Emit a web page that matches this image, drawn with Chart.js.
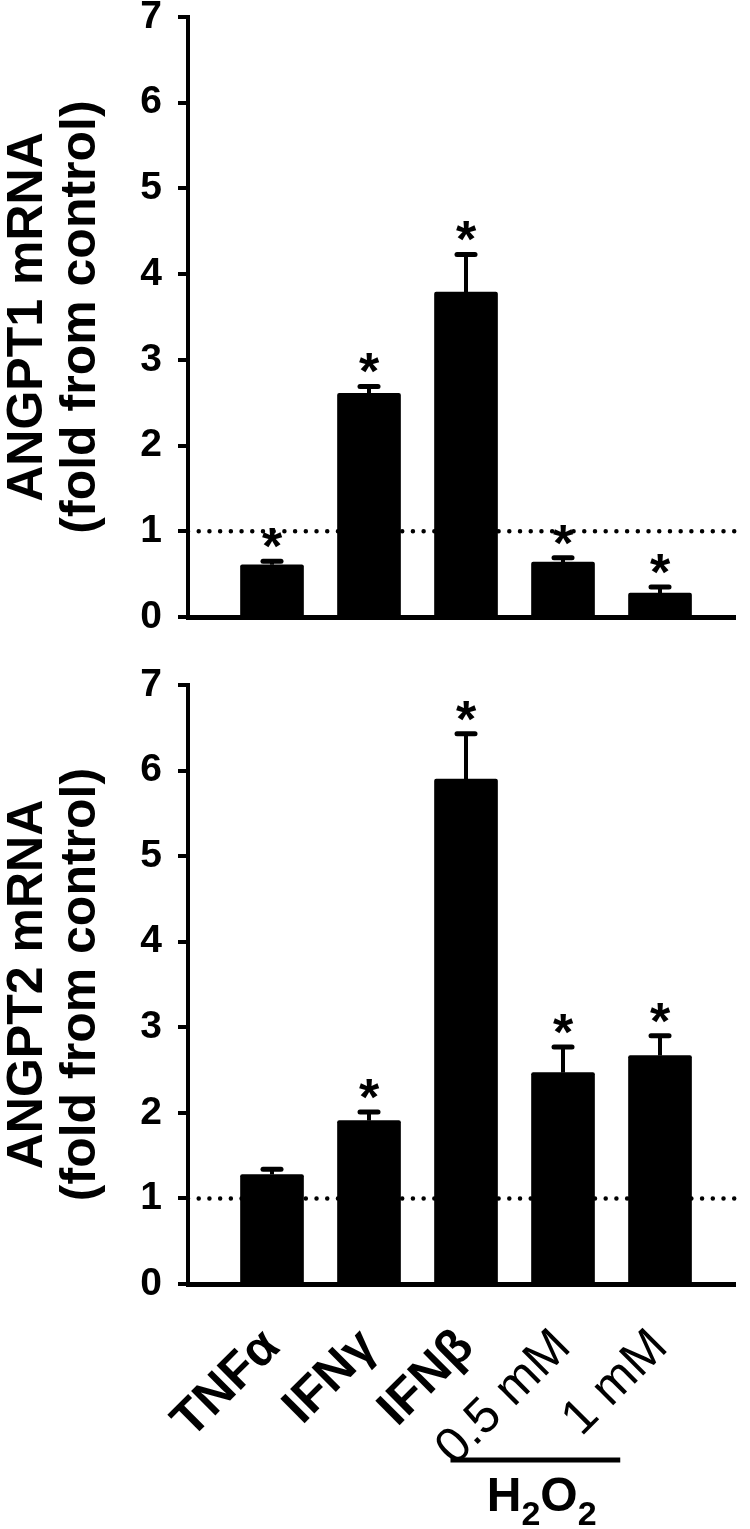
<!DOCTYPE html>
<html>
<head>
<meta charset="utf-8">
<script src="https://cdn.jsdelivr.net/npm/chart.js@4.4.0/dist/chart.umd.min.js"></script>
<style>
body { margin: 0; background: #fff; }
#wrap { position: relative; width: 750px; height: 1529px; overflow: hidden; }
canvas { position: absolute; left: 0; }
</style>
</head>
<body>
<div id="wrap">
<canvas id="angpt1" width="750" height="650" style="top:0px"></canvas>
<canvas id="angpt2" width="750" height="869" style="top:660px"></canvas>
</div>
<script>
// treatments (last two are H2O2 doses)
var labels = ["TNFα", "IFNγ", "IFNβ", "0.5 mM", "1 mM"];
var angpt1_mean = [0.61, 2.61, 3.79, 0.64, 0.28];
var angpt1_sem = [0.04, 0.08, 0.44, 0.05, 0.07];
var angpt1_sig = [true, true, true, true, true];
var angpt2_mean = [1.28, 1.91, 5.90, 2.47, 2.67];
var angpt2_sem = [0.06, 0.10, 0.53, 0.30, 0.23];
var angpt2_sig = [false, true, true, true, true];
var control_level = 1;
var y_max = 7;

var FONT = '"Liberation Sans", Arial, sans-serif';
var xMin = -0.866, xMax = 4.773;

var errorBars = {
    id: 'errorBars',
    afterDatasetsDraw: function (chart, args, opts) {
        var ctx = chart.ctx;
        var y = chart.scales.y;
        var meta = chart.getDatasetMeta(0);
        ctx.save();
        ctx.strokeStyle = '#000';
        ctx.fillStyle = '#000';
        meta.data.forEach(function (bar, i) {
            var base = y.getPixelForValue(opts.mean[i]);
            var top = y.getPixelForValue(opts.mean[i] + opts.sem[i]);
            ctx.lineWidth = 4;
            ctx.lineCap = 'butt';
            ctx.beginPath();
            ctx.moveTo(bar.x, base);
            ctx.lineTo(bar.x, top);
            ctx.stroke();
            ctx.lineWidth = 5;
            ctx.lineCap = 'round';
            ctx.beginPath();
            ctx.moveTo(bar.x - 9, top);
            ctx.lineTo(bar.x + 9, top);
            ctx.stroke();
            if (opts.sig[i]) {
                ctx.font = 'bold 52px ' + FONT;
                ctx.textAlign = 'center';
                ctx.textBaseline = 'alphabetic';
                ctx.fillText('*', bar.x, top + 3);
            }
        });
        ctx.restore();
    }
};

// bracket + label under the two H2O2 doses
var h2o2Label = {
    id: 'h2o2Label',
    afterDraw: function (chart) {
        var ctx = chart.ctx;
        var x = chart.scales.x;
        var bottom = chart.chartArea.bottom;
        var x0 = x.getPixelForValue(1.84), x1 = x.getPixelForValue(3.59);
        var lineY = bottom + 176;
        ctx.save();
        ctx.strokeStyle = '#000';
        ctx.lineWidth = 5;
        ctx.beginPath();
        ctx.moveTo(x0, lineY);
        ctx.lineTo(x1, lineY);
        ctx.stroke();
        var big = 'bold 48px ' + FONT, small = 'bold 34px ' + FONT;
        var parts = [["H", big, 0], ["2", small, 14], ["O", big, 0], ["2", small, 14]];
        var w = 0;
        parts.forEach(function (p) { ctx.font = p[1]; w += ctx.measureText(p[0]).width; });
        var cx = x.getPixelForValue(2.78) - w / 2;
        var base = bottom + 227;
        ctx.fillStyle = '#000';
        ctx.textBaseline = 'alphabetic';
        ctx.textAlign = 'left';
        parts.forEach(function (p) {
            ctx.font = p[1];
            ctx.fillText(p[0], cx, base + p[2]);
            cx += ctx.measureText(p[0]).width;
        });
        ctx.restore();
    }
};

function makeChart(id, mean, sem, sig, title, showLabels, padTop, padBottom, xHeight) {
    var ctx = document.getElementById(id).getContext('2d');
    return new Chart(ctx, {
        type: 'bar',
        data: {
            datasets: [
                {
                    type: 'bar',
                    data: mean.map(function (v, i) { return { x: i, y: v }; }),
                    backgroundColor: '#000',
                    borderWidth: 0,
                    borderRadius: 2,
                    barThickness: 63,
                    order: 1
                },
                {
                    type: 'line',
                    data: [{ x: xMin, y: control_level }, { x: xMax, y: control_level }],
                    borderColor: '#000',
                    borderWidth: 4.5,
                    borderDash: [0.01, 10.7],
                    borderCapStyle: 'round',
                    pointRadius: 0,
                    clip: false,
                    order: 2
                }
            ]
        },
        options: {
            responsive: false,
            animation: false,
            events: [],
            layout: { padding: { top: padTop, right: 15, bottom: padBottom, left: 0 } },
            plugins: {
                legend: { display: false },
                tooltip: { enabled: false },
                errorBars: { mean: mean, sem: sem, sig: sig }
            },
            scales: {
                x: {
                    type: 'linear',
                    offset: false,
                    min: xMin,
                    max: xMax,
                    afterBuildTicks: function (s) {
                        s.ticks = labels.map(function (l, i) { return { value: i }; });
                    },
                    afterFit: function (s) {
                        s.height = xHeight;
                        s.paddingLeft = 0;
                        s.paddingRight = 0;
                    },
                    ticks: {
                        display: showLabels,
                        autoSkip: false,
                        minRotation: 45,
                        maxRotation: 45,
                        padding: 34,
                        color: '#000',
                        font: function (c) {
                            return { family: FONT, size: 50, weight: c.index < 3 ? 'bold' : 'normal' };
                        },
                        callback: function (v) { return labels[v]; }
                    },
                    grid: { display: false, drawTicks: false, offset: false },
                    border: { display: true, color: '#000', width: 5 }
                },
                y: {
                    min: 0,
                    max: y_max,
                    afterFit: function (s) {
                        s.width = 188;
                        s.paddingTop = 0;
                        s.paddingBottom = 0;
                    },
                    ticks: {
                        stepSize: 1,
                        padding: 16,
                        color: '#000',
                        font: { family: FONT, size: 39, weight: 'bold', lineHeight: 1 }
                    },
                    grid: { drawOnChartArea: false, drawTicks: true, tickLength: 10, color: '#000', lineWidth: 4 },
                    border: { display: true, color: '#000', width: 4 },
                    title: {
                        display: true,
                        text: title,
                        color: '#000',
                        font: { family: FONT, size: 50, weight: 'bold', lineHeight: 1.06 },
                        padding: { top: 2, bottom: 0 }
                    }
                }
            }
        },
        plugins: showLabels ? [errorBars, h2o2Label] : [errorBars]
    });
}

var chart1 = makeChart('angpt1', angpt1_mean, angpt1_sem, angpt1_sig,
    ['ANGPT1 mRNA', '(fold from control)'], false, 17, 23, 10);
var chart2 = makeChart('angpt2', angpt2_mean, angpt2_sem, angpt2_sig,
    ['ANGPT2 mRNA', '(fold from control)'], true, 25, 0, 245);
</script>
</body>
</html>
